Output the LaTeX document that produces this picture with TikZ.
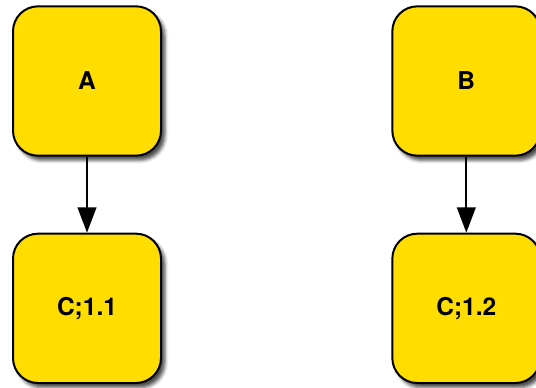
\documentclass[tikz,border=0pt]{standalone}
\usepackage{fontspec}
\setmainfont{TeX Gyre Heros}
\usepackage{tikz}
\usetikzlibrary{arrows.meta}
\usetikzlibrary{positioning, shadows.blur}
\definecolor{boxyellow}{RGB}{255,221,0}

\begin{document}
\begin{tikzpicture}[x=0.75pt,y=-0.75pt,
	every node/.style={minimum width={111pt},minimum height={112pt},rounded corners=18.75pt,line width=1.5pt,fill=boxyellow,font=\fontsize{18.4}{22}\selectfont\bfseries,
		blur shadow={shadow xshift=3pt,shadow yshift=-3.5pt,shadow opacity=70,shadow blur radius=2.5pt}},
	>={Triangle[width=14pt,length=19pt]}]
					\useasboundingbox (0,0) rectangle (536,387);

					\node[draw] (A) at (87,81) {A};
					\node[draw, right=172pt of A] (B) {B};
					\node[draw, below=57pt of A] (C11) {C;1.1};
					\node[draw, below=57pt of B] (C12) {C;1.2};

					\draw[->,line width=1.5pt] (A) -- (C11);
					\draw[->,line width=1.5pt] (B) -- (C12);
\end{tikzpicture}
\end{document}
